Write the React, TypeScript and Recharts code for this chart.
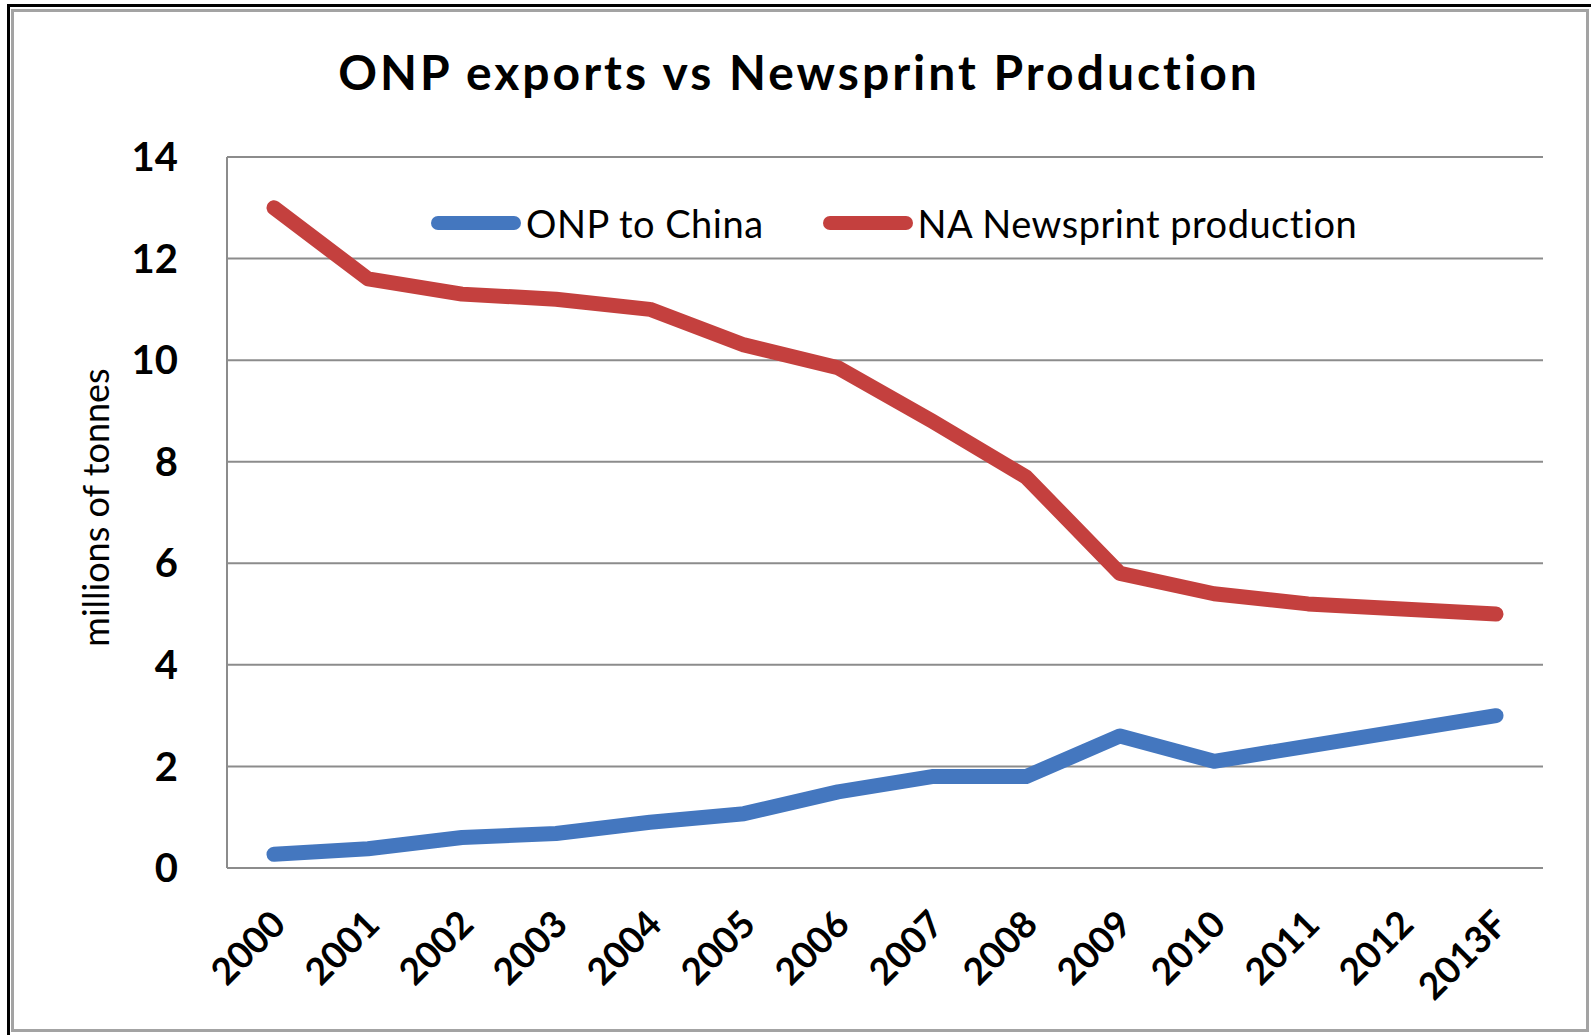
import { LineChart, Line, XAxis, YAxis, CartesianGrid, Legend } from "recharts";

// values, millions of tonnes
const years = [
  "2000", "2001", "2002", "2003", "2004", "2005", "2006",
  "2007", "2008", "2009", "2010", "2011", "2012", "2013F",
];
const onpToChina = [0.27, 0.38, 0.6, 0.68, 0.9, 1.07, 1.5, 1.8, 1.8, 2.6, 2.1, 2.4, 2.7, 3.0];
const naNewsprint = [13.0, 11.6, 11.3, 11.2, 11.0, 10.3, 9.85, 8.8, 7.7, 5.8, 5.4, 5.2, 5.1, 5.0];
const yTicks = [0, 2, 4, 6, 8, 10, 12, 14];
const seriesOrder = ["onp", "na"];

const data = years.map((year, i) => ({
  year,
  onp: onpToChina[i],
  na: naNewsprint[i],
}));

const FONT = "Lato, 'Open Sans', sans-serif";
const GRID = "#8c8c8c";

function LegendRow({ payload }: any) {
  // recharts 3 sorts legend items by name, put them back in series order
  const items = [...(payload || [])].sort(
    (a: any, b: any) => seriesOrder.indexOf(a.dataKey) - seriesOrder.indexOf(b.dataKey)
  );
  return (
    <div
      style={{
        display: "flex",
        alignItems: "center",
        fontFamily: FONT,
        fontSize: 38,
        color: "#000",
        whiteSpace: "nowrap",
      }}
    >
      {items.map((entry: any, i: number) => (
        <div
          key={entry.value}
          style={{ display: "flex", alignItems: "center", marginLeft: i === 0 ? 0 : 59 }}
        >
          <svg width={90} height={16}>
            <line
              x1={7}
              y1={8}
              x2={83}
              y2={8}
              stroke={entry.color}
              strokeWidth={14}
              strokeLinecap="round"
            />
          </svg>
          <span style={{ marginLeft: 5, letterSpacing: 0.5 }}>{entry.value}</span>
        </div>
      ))}
    </div>
  );
}

export default function App() {
  return (
    <div
      style={{
        position: "absolute",
        left: 0,
        top: 0,
        width: 1591,
        height: 1035,
        background: "#fff",
        overflow: "hidden",
      }}
    >
      {/* dark outer edge, top and left only */}
      <div
        style={{
          position: "absolute",
          left: 7,
          top: 4,
          width: 1600,
          height: 1040,
          borderTop: "3px solid #000",
          borderLeft: "3px solid #000",
        }}
      />
      {/* grey chart frame */}
      <div
        style={{
          position: "absolute",
          left: 11,
          top: 9,
          width: 1572,
          height: 1017,
          border: "3px solid #a3a3a3",
        }}
      />
      <div
        style={{
          position: "absolute",
          left: 799,
          top: 48,
          transform: "translateX(-50%)",
          fontFamily: FONT,
          fontWeight: 700,
          fontSize: 48,
          lineHeight: "48px",
          letterSpacing: 3,
          whiteSpace: "nowrap",
          color: "#000",
        }}
      >
        ONP exports vs Newsprint Production
      </div>
      <div style={{ position: "absolute", left: 0, top: 0 }}>
        <LineChart
          width={1591}
          height={1035}
          data={data}
          margin={{ top: 157, right: 48, bottom: 47, left: 147 }}
        >
          <CartesianGrid vertical={false} stroke={GRID} strokeWidth={2} />
          <XAxis
            dataKey="year"
            height={120}
            padding={{ left: 47, right: 47 }}
            interval={0}
            axisLine={{ stroke: GRID, strokeWidth: 2 }}
            tickLine={false}
            tickSize={0}
            tickMargin={40}
            tick={{
              angle: -45,
              textAnchor: "end",
              dx: -5,
              fontFamily: FONT,
              fontSize: 37,
              fontWeight: 700,
              fill: "#000",
            }}
          />
          <YAxis
            width={80}
            domain={[0, 14]}
            ticks={yTicks}
            axisLine={{ stroke: GRID, strokeWidth: 2 }}
            tickLine={false}
            tickSize={0}
            tickMargin={49}
            tick={{ fontFamily: FONT, fontSize: 40, fontWeight: 700, fill: "#000" }}
            label={{
              value: "millions of tonnes",
              angle: -90,
              position: "center",
              dx: -91,
              dy: -5,
              style: { fontFamily: FONT, fontSize: 36, fill: "#000" },
            }}
          />
          <Legend
            layout="horizontal"
            verticalAlign="middle"
            align="center"
            wrapperStyle={{ left: 431, top: 200, width: 1100 }}
            content={<LegendRow />}
          />
          <Line
            type="linear"
            dataKey="onp"
            name="ONP to China"
            stroke="#4477bf"
            strokeWidth={15}
            strokeLinecap="round"
            strokeLinejoin="round"
            dot={false}
            activeDot={false}
            isAnimationActive={false}
          />
          <Line
            type="linear"
            dataKey="na"
            name="NA Newsprint production"
            stroke="#c4403e"
            strokeWidth={15}
            strokeLinecap="round"
            strokeLinejoin="round"
            dot={false}
            activeDot={false}
            isAnimationActive={false}
          />
        </LineChart>
      </div>
    </div>
  );
}
